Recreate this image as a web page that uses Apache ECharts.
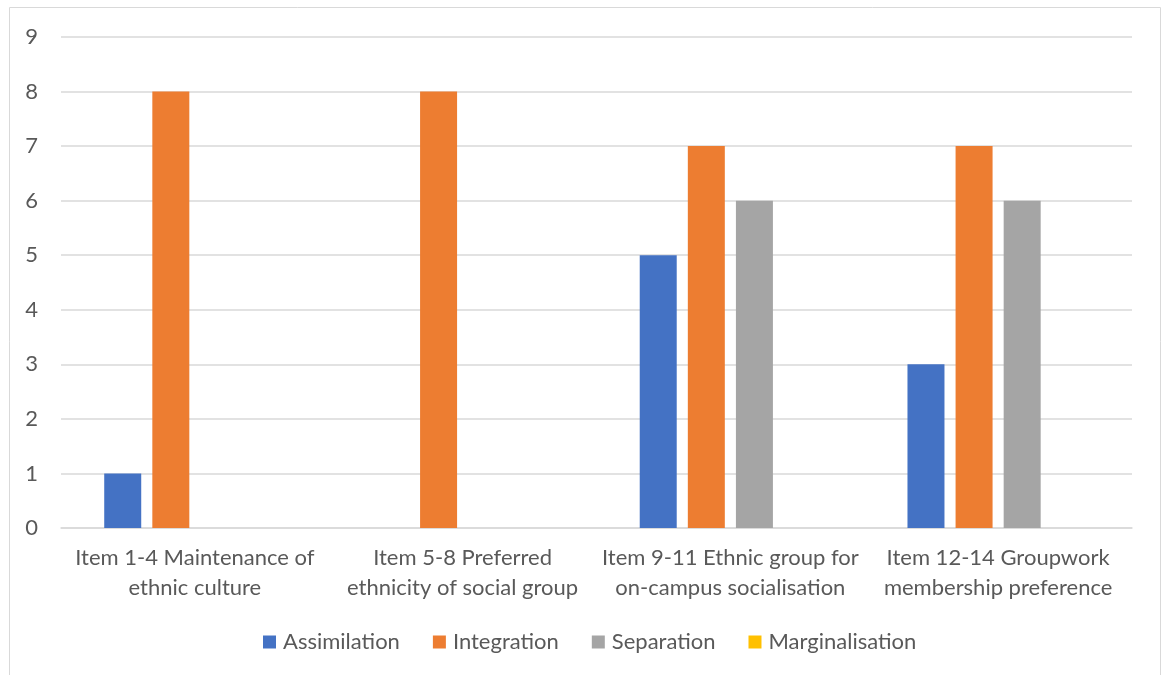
<!DOCTYPE html>
<html>
<head>
<meta charset="utf-8">
<script src="https://cdn.jsdelivr.net/npm/echarts@6/dist/echarts.min.js"></script>
<style>
  html, body { margin: 0; padding: 0; background: #fff; }
  #chart { width: 1161px; height: 675px; }
</style>
</head>
<body>
<div id="chart"></div>
<script>
// Acculturation strategy counts per questionnaire item group
const categories = [
  'Item 1-4 Maintenance of\nethnic culture',
  'Item 5-8 Preferred\nethnicity of social group',
  'Item 9-11 Ethnic group for\non-campus socialisation',
  'Item 12-14 Groupwork\nmembership preference'
];
const assimilation = [1, 0, 5, 3];
const integration = [8, 8, 7, 7];
const separation = [0, 0, 6, 6];
const marginalisation = [0, 0, 0, 0];
const yTicks = [0, 1, 2, 3, 4, 5, 6, 7, 8, 9];

const FONT = 'Lato';
const TEXT = '#595959';
const GRIDC = '#d9d9d9';

function barSeries(name, data, color) {
  return {
    name: name,
    type: 'bar',
    data: data,
    barWidth: 37,
    barGap: '30%',
    itemStyle: { color: color },
    emphasis: { disabled: true }
  };
}

const chart = echarts.init(document.getElementById('chart'), null, { renderer: 'canvas' });
chart.setOption({
  animation: false,
  textStyle: { fontFamily: FONT },
  graphic: [{
    type: 'rect',
    shape: { x: 9.5, y: 7.5, width: 1151, height: 700 },
    style: { fill: 'none', stroke: GRIDC, lineWidth: 1 },
    silent: true
  }],
  grid: { left: 61, right: 29, top: 37, bottom: 147 },
  legend: {
    bottom: 17,
    left: 258,
    itemWidth: 13,
    itemHeight: 13,
    itemGap: 33,
    icon: 'rect',
    textStyle: { color: TEXT, fontSize: 22, fontFamily: FONT, padding: [0, 0, 0, 2] },
    data: ['Assimilation', 'Integration', 'Separation', 'Marginalisation']
  },
  xAxis: {
    type: 'category',
    data: categories,
    axisLine: { show: true, lineStyle: { color: GRIDC, width: 1.5 } },
    axisTick: { show: false },
    axisLabel: {
      color: TEXT, fontSize: 22, fontFamily: FONT,
      lineHeight: 30, margin: 15, interval: 0, align: 'center'
    }
  },
  yAxis: {
    type: 'value',
    min: yTicks[0],
    max: yTicks[yTicks.length - 1],
    interval: 1,
    axisLine: { show: false },
    axisTick: { show: false },
    axisLabel: { color: TEXT, fontSize: 22, fontFamily: FONT, margin: 23 },
    splitLine: { lineStyle: { color: GRIDC, width: 1.5 } }
  },
  series: [
    barSeries('Assimilation', assimilation, '#4472C4'),
    barSeries('Integration', integration, '#ED7D31'),
    barSeries('Separation', separation, '#A5A5A5'),
    barSeries('Marginalisation', marginalisation, '#FFC000')
  ]
});
</script>
</body>
</html>
